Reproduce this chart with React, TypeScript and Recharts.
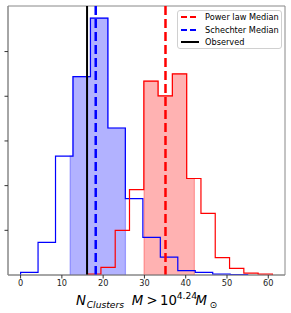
import { ComposedChart, Line, Area, XAxis, YAxis, ReferenceLine, ReferenceArea, Legend } from 'recharts';

// histogram bins (y in tick units)
const blueEdges = [0, 4.23, 8.46, 12.69, 16.92, 21.15, 25.38, 29.62, 33.85, 38.08, 42.31, 46.54, 50.77, 55];
const blueHeights = [0.06, 0.73, 2.66, 4.44, 5.75, 3.29, 1.71, 0.84, 0.4, 0.1, 0.06, 0.02, 0.01];
const redEdges = [16, 19.46, 22.92, 26.38, 29.85, 33.31, 36.77, 40.23, 43.69, 47.15, 50.62, 54.08, 57.54, 61];
const redHeights = [0.02, 0.17, 1.0, 1.91, 4.34, 4.01, 4.5, 2.16, 1.38, 0.39, 0.15, 0.04, 0.02];
const blueBand = [12.0, 25.4];
const redBand = [29.9, 42.1];
const powerLawMedian = 35.1;
const schechterMedian = 18.2;
const observed = 16.1;
const xTicks = [0, 10, 20, 30, 40, 50, 60];
const yTicks = [1, 2, 3, 4, 5];

const FONT = 'DejaVu Sans, sans-serif';
const X_DOMAIN = [-3.05, 64.05];
const Y_DOMAIN = [0, 6.02];

type Pt = { x: number; y: number };

function outline(edges: number[], heights: number[]): Pt[] {
  const pts: Pt[] = [{ x: edges[0], y: 0 }];
  heights.forEach((h, i) => pts.push({ x: edges[i], y: h }));
  const last = heights.length - 1;
  pts.push({ x: edges[last + 1], y: heights[last] });
  pts.push({ x: edges[last + 1], y: 0 });
  return pts;
}

function band(edges: number[], heights: number[], lo: number, hi: number): Pt[] {
  const pts: Pt[] = [{ x: lo, y: 0 }];
  let lastH = 0;
  heights.forEach((h, i) => {
    if (edges[i + 1] <= lo || edges[i] >= hi) return;
    pts.push({ x: Math.max(edges[i], lo), y: h });
    lastH = h;
  });
  pts.push({ x: hi, y: lastH });
  pts.push({ x: hi, y: 0 });
  return pts;
}

const legendItems = [
  { label: 'Power law Median', color: 'red', dash: true },
  { label: 'Schechter Median', color: 'blue', dash: true },
  { label: 'Observed', color: 'black', dash: false },
];

function LegendBox() {
  return (
    <div
      style={{
        border: '1px solid #d0d0d0',
        borderRadius: 3,
        background: 'rgba(255,255,255,0.8)',
        width: 105,
        height: 39,
        boxSizing: 'border-box',
        padding: '0 0 0 3px',
        fontFamily: FONT,
        fontSize: 8.2,
        color: '#000',
      }}
    >
      {legendItems.map((it) => (
        <div key={it.label} style={{ display: 'flex', alignItems: 'center', height: 12.5 }}>
          <svg width={18} height={4} style={{ marginRight: 6 }}>
            <line
              x1={0}
              y1={2}
              x2={18}
              y2={2}
              stroke={it.color}
              strokeWidth={2}
              strokeDasharray={it.dash ? '6 3' : undefined}
            />
          </svg>
          <span style={{ whiteSpace: 'nowrap', lineHeight: '12px' }}>{it.label}</span>
        </div>
      ))}
    </div>
  );
}

function XLabel() {
  const base = 304.5;
  return (
    <text y={base} fontFamily={FONT} fill="#000">
      <tspan x={76} y={base} fontSize={13.3} fontStyle="italic">N</tspan>
      <tspan x={86.7} y={base + 3} fontSize={9.2} fontStyle="italic">Clusters</tspan>
      <tspan x={131.7} y={base} fontSize={13.3} fontStyle="italic">M</tspan>
      <tspan x={146.5} y={base} fontSize={13.3}>{'>'}</tspan>
      <tspan x={160} y={base} fontSize={13.3}>10</tspan>
      <tspan x={176.7} y={base - 5.5} fontSize={9.2}>4.24</tspan>
      <tspan x={195.5} y={base} fontSize={13.3} fontStyle="italic">M</tspan>
      <tspan x={209.5} y={base + 3} fontSize={9.2}>⊙</tspan>
    </text>
  );
}

export default function App() {
  return (
    <div style={{ position: 'absolute', left: 0, top: 0, width: 291, height: 313, background: '#fff' }}>
      <ComposedChart width={291} height={313} margin={{ top: 6, right: 6, bottom: 0, left: 0 }}>
        <XAxis
          dataKey="x"
          type="number"
          domain={X_DOMAIN}
          ticks={xTicks}
          allowDataOverflow
          height={38}
          tickSize={3.5}
          tickMargin={2}
          stroke="#888"
          tickLine={{ stroke: '#333' }}
          tick={{ fontSize: 8.2, fontFamily: FONT, fill: '#222' }}
          label={<XLabel />}
        />
        <YAxis
          type="number"
          domain={Y_DOMAIN}
          ticks={yTicks}
          allowDataOverflow
          width={8}
          tickSize={3.5}
          stroke="#888"
          tickLine={{ stroke: '#333' }}
          tickFormatter={() => ''}
        />
        <ReferenceArea
          x1={X_DOMAIN[0]}
          x2={X_DOMAIN[1]}
          y1={Y_DOMAIN[0]}
          y2={Y_DOMAIN[1]}
          fill="none"
          stroke="#888"
          strokeWidth={1}
          ifOverflow="visible"
        />
        <Area
          data={band(blueEdges, blueHeights, blueBand[0], blueBand[1])}
          dataKey="y"
          type="stepAfter"
          fill="blue"
          fillOpacity={0.3}
          stroke="blue"
          strokeOpacity={0.3}
          strokeWidth={1.2}
          isAnimationActive={false}
          activeDot={false}
        />
        <Area
          data={band(redEdges, redHeights, redBand[0], redBand[1])}
          dataKey="y"
          type="stepAfter"
          fill="red"
          fillOpacity={0.3}
          stroke="red"
          strokeOpacity={0.3}
          strokeWidth={1.2}
          isAnimationActive={false}
          activeDot={false}
        />
        <Line
          data={outline(blueEdges, blueHeights)}
          dataKey="y"
          type="stepAfter"
          stroke="blue"
          strokeWidth={1.2}
          dot={false}
          activeDot={false}
          isAnimationActive={false}
        />
        <Line
          data={outline(redEdges, redHeights)}
          dataKey="y"
          type="stepAfter"
          stroke="red"
          strokeWidth={1.2}
          dot={false}
          activeDot={false}
          isAnimationActive={false}
        />
        <ReferenceLine x={observed} stroke="black" strokeWidth={2} />
        <ReferenceLine x={schechterMedian} stroke="blue" strokeWidth={2.5} strokeDasharray="9 4" />
        <ReferenceLine x={powerLawMedian} stroke="red" strokeWidth={2.5} strokeDasharray="9 4" />
        <Legend
          layout="horizontal"
          verticalAlign="middle"
          align="center"
          content={<LegendBox />}
          wrapperStyle={{ position: 'absolute', top: 10, left: 177, width: 105, height: 39 }}
        />
      </ComposedChart>
    </div>
  );
}
